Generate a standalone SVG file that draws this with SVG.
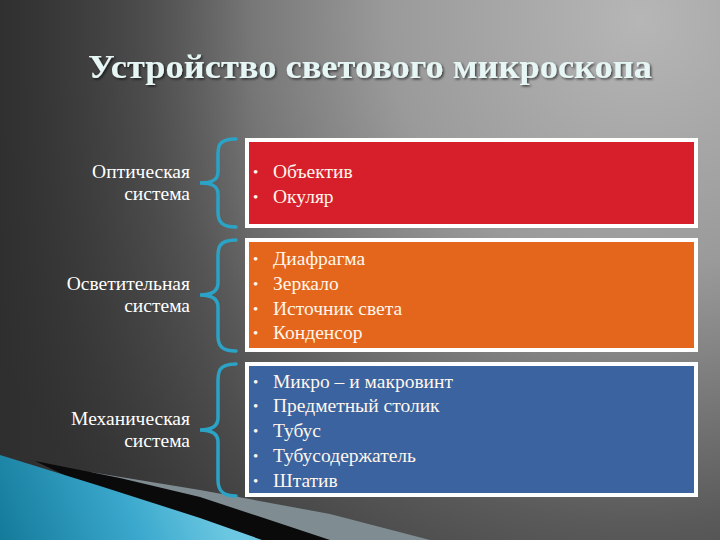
<svg xmlns="http://www.w3.org/2000/svg" width="720" height="540" viewBox="0 0 720 540">
<defs>
<radialGradient id="bg" cx="640" cy="20" r="720" gradientUnits="userSpaceOnUse">
<stop offset="0" stop-color="#b6b6b6"/>
<stop offset="0.35" stop-color="#9a9a9a"/>
<stop offset="0.7" stop-color="#5a5a5a"/>
<stop offset="1" stop-color="#333333"/>
</radialGradient>
<linearGradient id="lft" x1="0" y1="0" x2="1" y2="0">
<stop offset="0" stop-color="#2e2e2e" stop-opacity="0.9"/>
<stop offset="0.35" stop-color="#3a3a3a" stop-opacity="0"/>
</linearGradient>
<linearGradient id="cy" x1="0" y1="540" x2="200" y2="460" gradientUnits="userSpaceOnUse">
<stop offset="0" stop-color="#147a9a"/>
<stop offset="0.6" stop-color="#3aa8cc"/>
<stop offset="1" stop-color="#6cc8e2"/>
</linearGradient>
<filter id="sh" x="-5%" y="-20%" width="110%" height="140%">
<feDropShadow dx="1.5" dy="1.5" stdDeviation="1" flood-color="#000" flood-opacity="0.6"/>
</filter>
</defs>
<style>
text{font-family:"Liberation Serif","DejaVu Serif",serif}
.lbl{font-size:19.5px;fill:#ffffff;text-anchor:end}
.itm{font-size:19.5px;fill:#fff6ec}
.bul{font-size:15px;fill:#fff6ec}
.box{stroke:#ffffff;stroke-width:4}
.brace{fill:none;stroke:#2ba3c6;stroke-width:3.5;stroke-linecap:round}
.title{font-weight:bold;font-size:34px;fill:#e6f6f4;text-anchor:middle}
</style>
<rect width="720" height="540" fill="url(#bg)"/>
<rect width="720" height="540" fill="url(#lft)"/>
<g id="decor">
<polygon points="90,472 200,490 330,514 430,540 300,540" fill="#7f8d93"/>
<polygon points="35,461 120,478 200,497 330,540 200,540" fill="#0a0a0a"/>
<polygon points="0,455 100,486 200,518 262,540 0,540" fill="url(#cy)"/>
</g>
<text class="title" x="370" y="78" textLength="564" lengthAdjust="spacingAndGlyphs" filter="url(#sh)">Устройство светового микроскопа</text>
<g id="connectors">
<path class="brace" d="M236,139 C216,139 218,148 218,160 L218,172 C218,180 212,183 200,183 C212,183 218,186 218,194 L218,212 C218,222 222,227 236,227"/>
<path class="brace" d="M236,240 C216,240 218,250 218,262 L218,283 C218,291 212,295 200,295 C212,295 218,299 218,307 L218,336 C218,346 222,351 236,351"/>
<path class="brace" d="M236,364 C216,364 218,374 218,388 L218,418 C218,426 212,430 200,430 C212,430 218,434 218,442 L218,480 C218,490 222,496 236,496"/>
</g>
<g id="optical">
<text class="lbl" x="190" y="178">Оптическая</text>
<text class="lbl" x="190" y="200">система</text>
<rect class="box" x="247" y="140" width="449" height="86" fill="#d71f2b"/>
<text class="bul" x="253" y="177">•</text><text class="itm" x="273" y="178">Объектив</text>
<text class="bul" x="253" y="202">•</text><text class="itm" x="273" y="203">Окуляр</text>
</g>
<g id="lighting">
<text class="lbl" x="190" y="290">Осветительная</text>
<text class="lbl" x="190" y="312">система</text>
<rect class="box" x="247" y="240" width="449" height="110" fill="#e3661c"/>
<text class="bul" x="253" y="264">•</text><text class="itm" x="273" y="265">Диафрагма</text>
<text class="bul" x="253" y="289">•</text><text class="itm" x="273" y="290">Зеркало</text>
<text class="bul" x="253" y="314">•</text><text class="itm" x="273" y="315">Источник света</text>
<text class="bul" x="253" y="338">•</text><text class="itm" x="273" y="339">Конденсор</text>
</g>
<g id="mechanical">
<text class="lbl" x="190" y="425">Механическая</text>
<text class="lbl" x="190" y="447">система</text>
<rect class="box" x="247" y="364" width="449" height="131" fill="#3a63a0"/>
<text class="bul" x="253" y="387">•</text><text class="itm" x="273" y="388">Микро – и макровинт</text>
<text class="bul" x="253" y="411">•</text><text class="itm" x="273" y="412">Предметный столик</text>
<text class="bul" x="253" y="436">•</text><text class="itm" x="273" y="437">Тубус</text>
<text class="bul" x="253" y="461">•</text><text class="itm" x="273" y="462">Тубусодержатель</text>
<text class="bul" x="253" y="486">•</text><text class="itm" x="273" y="487">Штатив</text>
</g>
</svg>
